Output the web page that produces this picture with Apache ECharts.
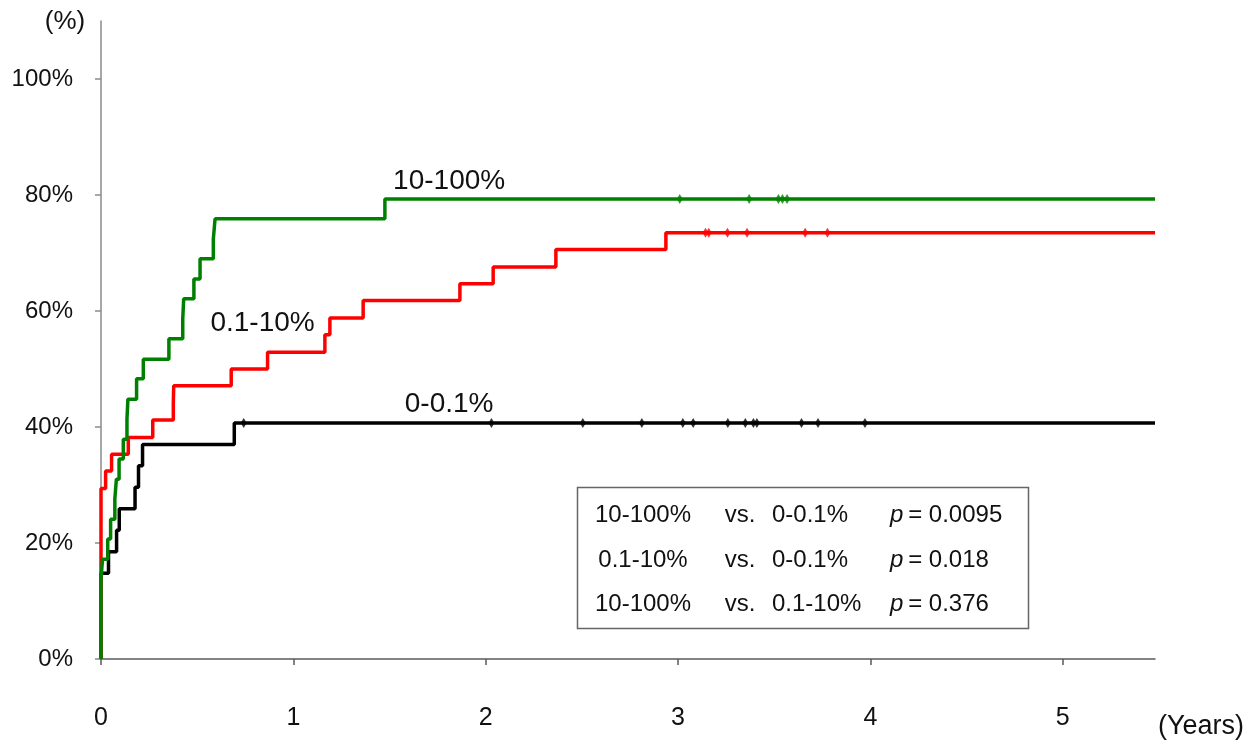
<!DOCTYPE html>
<html>
<head>
<meta charset="utf-8">
<script src="https://cdn.jsdelivr.net/npm/echarts@6/dist/echarts.min.js"></script>
<style>
html,body{margin:0;padding:0;background:#fff;}
#c{width:1256px;height:742px;}
</style>
</head>
<body>
<div id="c"></div>
<script>
// Data (years, cumulative %)
const greenTimes  = [0, 0, 0.008, 0.035, 0.050, 0.072, 0.080, 0.094, 0.116, 0.135, 0.140, 0.185, 0.220, 0.353, 0.425, 0.430, 0.483, 0.515, 0.584, 0.593, 1.476, 5.48];
const greenValues = [0, 13.8, 17.2, 20.7, 24.1, 27.6, 31.0, 34.5, 37.9, 41.4, 44.8, 48.3, 51.7, 55.2, 58.6, 62.1, 65.5, 69.0, 72.4, 75.9, 79.3, 79.3];
const redTimes    = [0, 0, 0.024, 0.055, 0.142, 0.269, 0.376, 0.378, 0.677, 0.866, 1.164, 1.190, 1.363, 1.866, 2.039, 2.365, 2.937, 5.48];
const redValues   = [0, 29.4, 32.4, 35.3, 38.2, 41.2, 44.1, 47.1, 50.0, 52.9, 55.9, 58.8, 61.8, 64.7, 67.6, 70.6, 73.5, 73.5];
const blackTimes  = [0, 0, 0.039, 0.081, 0.095, 0.177, 0.195, 0.216, 0.693, 5.48];
const blackValues = [0, 14.8, 18.5, 22.2, 25.9, 29.6, 33.3, 37.0, 40.7, 40.7];

const greenCensor = [3.009, 3.370, 3.522, 3.543, 3.567];
const redCensor   = [3.143, 3.160, 3.257, 3.359, 3.661, 3.777];
const blackCensor = [0.742, 2.030, 2.505, 2.812, 3.025, 3.079, 3.259, 3.350, 3.392, 3.410, 3.642, 3.728, 3.972];

const xTicks = [0, 1, 2, 3, 4, 5];
const yTicks = [0, 20, 40, 60, 80, 100];

const groupLabels = [
  {text: '10-100%', x: 1.81, y: 82.4},
  {text: '0.1-10%', x: 0.84, y: 57.9},
  {text: '0-0.1%',  x: 1.81, y: 44.0}
];
const pRows = [
  ['10-100%', 'vs.', '0-0.1%', '0.0095'],
  ['0.1-10%', 'vs.', '0-0.1%', '0.018'],
  ['10-100%', 'vs.', '0.1-10%', '0.376']
];

const FONT = '"Liberation Sans", Arial, sans-serif';
const zip = (a, b) => a.map((v, i) => [v, b[i]]);
const censorPts = (ts, v) => ts.map(t => [t, v]);

const chart = echarts.init(document.getElementById('c'), null, {renderer: 'canvas'});

const option = {
  animation: false,
  backgroundColor: '#fff',
  grid: {left: 101, right: 101, top: 21, bottom: 83, containLabel: false},
  xAxis: {
    type: 'value', min: 0, max: 5.48, interval: 1,
    axisLine: {show: true, lineStyle: {color: '#5a5a5a', width: 1.5}},
    axisTick: {show: true, length: 6, lineStyle: {color: '#5a5a5a', width: 1.5}, customValues: xTicks},
    axisLabel: {show: true, margin: 47, fontSize: 25, color: '#111', fontFamily: FONT, customValues: xTicks},
    splitLine: {show: false}
  },
  yAxis: {
    type: 'value', min: 0, max: 110, interval: 20,
    axisLine: {show: true, lineStyle: {color: '#8a8a8a', width: 1.5}},
    axisTick: {show: true, length: 6, lineStyle: {color: '#8a8a8a', width: 1.5}, customValues: yTicks},
    axisLabel: {show: true, margin: 28, fontSize: 24, color: '#111', fontFamily: FONT, formatter: '{value}%', customValues: yTicks},
    splitLine: {show: false}
  },
  series: [
    {type: 'line', step: 'end', data: zip(blackTimes, blackValues), showSymbol: false, lineStyle: {color: '#000', width: 3.5}, z: 2},
    {type: 'line', step: 'end', data: zip(redTimes, redValues), showSymbol: false, lineStyle: {color: '#ff0000', width: 3.5}, z: 3},
    {type: 'line', step: 'end', data: zip(greenTimes, greenValues), showSymbol: false, lineStyle: {color: '#008000', width: 3.5}, z: 4},
    {type: 'scatter', data: censorPts(blackCensor, blackValues[blackValues.length-1]), symbol: 'diamond', symbolSize: [6, 10], itemStyle: {color: '#000'}, z: 5},
    {type: 'scatter', data: censorPts(redCensor, redValues[redValues.length-1]), symbol: 'diamond', symbolSize: [6, 10], itemStyle: {color: '#ff0000'}, z: 5},
    {type: 'scatter', data: censorPts(greenCensor, greenValues[greenValues.length-1]), symbol: 'diamond', symbolSize: [6, 10], itemStyle: {color: '#008000'}, z: 5}
  ]
};
chart.setOption(option);

// annotations
const g = [];
groupLabels.forEach(l => {
  const p = chart.convertToPixel({gridIndex: 0}, [l.x, l.y]);
  g.push({type: 'text', x: p[0], y: p[1], style: {text: l.text, font: '28px ' + FONT, fill: '#111', textAlign: 'center', textVerticalAlign: 'middle'}});
});
g.push({type: 'text', x: 65, y: 22, style: {text: '(%)', font: '26px ' + FONT, fill: '#111', textAlign: 'center', textVerticalAlign: 'middle'}});
g.push({type: 'text', x: 1201, y: 727, style: {text: '(Years)', font: '27px ' + FONT, fill: '#111', textAlign: 'center', textVerticalAlign: 'middle'}});

// p-value box
const boxL = 577, boxT = 487, boxW = 451, boxH = 141;
g.push({type: 'rect', shape: {x: boxL + 0.5, y: boxT + 0.5, width: boxW, height: boxH}, style: {fill: 'none', stroke: '#666', lineWidth: 1.5}});
const rowY = [515, 560, 604];
const colX = [643, 740, 772, 890];
pRows.forEach((r, i) => {
  g.push({type: 'text', x: colX[0], y: rowY[i], style: {text: r[0], font: '24px ' + FONT, fill: '#111', textAlign: 'center', textVerticalAlign: 'middle'}});
  g.push({type: 'text', x: colX[1], y: rowY[i], style: {text: r[1], font: '24px ' + FONT, fill: '#111', textAlign: 'center', textVerticalAlign: 'middle'}});
  g.push({type: 'text', x: colX[2], y: rowY[i], style: {text: r[2], font: '24px ' + FONT, fill: '#111', textAlign: 'left', textVerticalAlign: 'middle'}});
  g.push({type: 'text', x: colX[3], y: rowY[i], style: {
    rich: {i: {font: 'italic 24px ' + FONT, fill: '#111'}, n: {font: '24px ' + FONT, fill: '#111'}},
    text: '{i|p}{n|\u2009= ' + r[3] + '}', textAlign: 'left', textVerticalAlign: 'middle'}});
});
chart.setOption({graphic: g});
</script>
</body>
</html>
